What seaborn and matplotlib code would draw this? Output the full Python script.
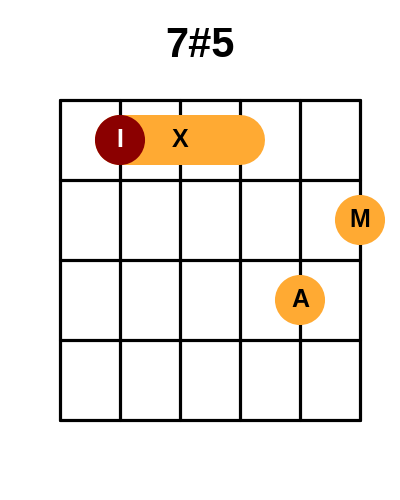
import numpy as np
import pandas as pd
import matplotlib
matplotlib.use('Agg')
import matplotlib.pyplot as plt
import seaborn as sns

title = '7#5'
n_strings = 6
n_frets = 4

# finger dots: string index (0 = leftmost), fret number, label
dot_strings = [1, 5, 4]
dot_frets = [1, 2, 3]
dot_labels = ['I', 'M', 'A']
dot_colors = ['#8B0000', '#FFAA33', '#FFAA33']
label_colors = ['white', 'black', 'black']

# barre: fret, from string, to string, label
barre_fret = 1
barre_from = 1
barre_to = 3
barre_label = 'X'

sns.set_style('white')
plt.rcParams['font.family'] = ['Liberation Sans', 'DejaVu Sans']

fig = plt.figure(figsize=(4, 5), dpi=100)
ax = fig.add_axes([0, 0, 1, 1])

# pixel-like coordinates: string spacing 60, fret spacing 80
x0, y0, dx, dy = 60, 100, 60, 80
sx = lambda s: x0 + np.asarray(s) * dx
fy = lambda f: y0 + (np.asarray(f) - 0.5) * dy

lw = 2.3
for s in range(n_strings):
    d = pd.DataFrame({'x': [sx(s)] * 2, 'y': [y0, y0 + n_frets * dy]})
    sns.lineplot(data=d, x='x', y='y', ax=ax, color='black', lw=lw,
                 sort=False, estimator=None, zorder=1)
for f in range(n_frets + 1):
    d = pd.DataFrame({'x': [x0, sx(n_strings - 1)], 'y': [y0 + f * dy] * 2})
    sns.lineplot(data=d, x='x', y='y', ax=ax, color='black', lw=lw,
                 sort=False, estimator=None, zorder=1)

# barre as a thick round-capped line
bd = pd.DataFrame({'x': [sx(barre_from), sx(barre_to)], 'y': [fy(barre_fret)] * 2})
sns.lineplot(data=bd, x='x', y='y', ax=ax, color='#FFAA33', lw=36,
             solid_capstyle='round', sort=False, estimator=None, zorder=2)
ax.text(sx(barre_from + 1), fy(barre_fret), barre_label, ha='center', va='center',
        fontsize=18, fontweight='bold', color='black', zorder=4)

dots = pd.DataFrame({'x': sx(dot_strings), 'y': fy(dot_frets), 'label': dot_labels})
sns.scatterplot(data=dots, x='x', y='y', hue='label', palette=dict(zip(dot_labels, dot_colors)),
                s=1300, linewidth=0, ax=ax, legend=False, zorder=3)
for _, r in dots.iterrows():
    i = dot_labels.index(r['label'])
    ax.text(r['x'], r['y'], r['label'], ha='center', va='center',
            fontsize=18, fontweight='bold', color=label_colors[i], zorder=4)

ax.text(200, 46, title, ha='center', va='center', fontsize=30, fontweight='bold',
        color='black')

ax.set_xlim(0, 400)
ax.set_ylim(500, 0)
ax.axis('off')
fig.savefig('out.png', dpi=100)
